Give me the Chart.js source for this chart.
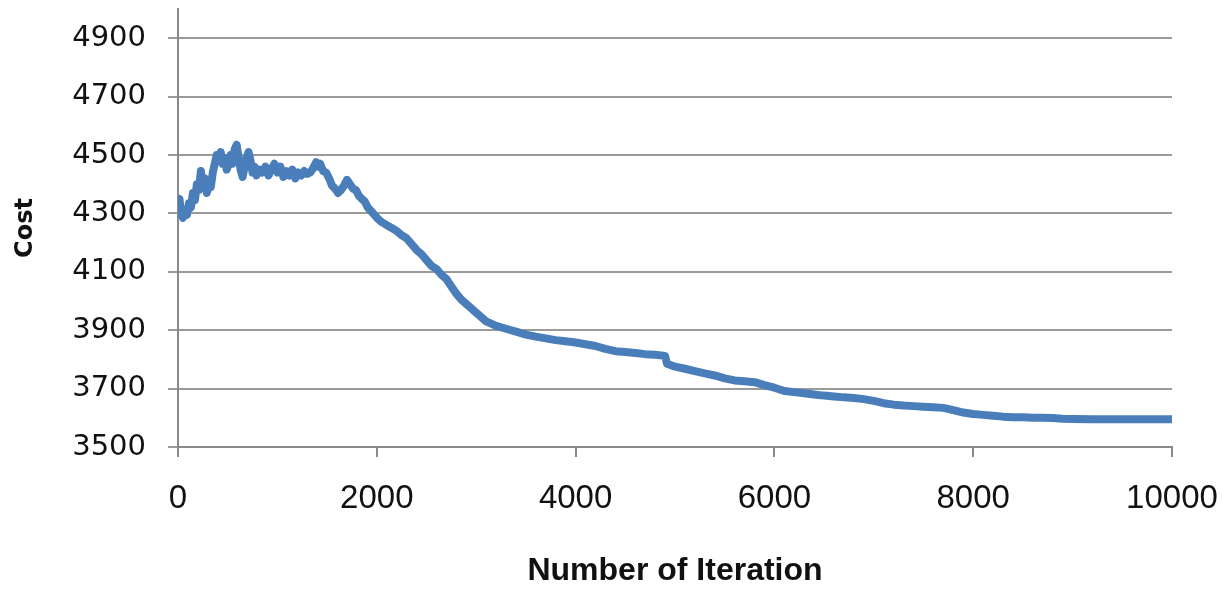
<!DOCTYPE html>
<html>
<head>
<meta charset="utf-8">
<script src="https://cdn.jsdelivr.net/npm/chart.js@4/dist/chart.umd.min.js"></script>
<style>
  html, body { margin: 0; padding: 0; background: #fff; }
  #wrap { width: 1223px; height: 590px; position: relative; }
</style>
</head>
<body>
<div id="wrap"><canvas id="cost-chart" width="1223" height="590"></canvas></div>
<script>
// Iteration numbers and cost
const iterations = [
  0, 15, 30, 50, 70, 90, 110, 130, 150, 170, 190, 210, 230, 250, 270, 290, 310, 330, 350, 370,
  390, 410, 430, 450, 470, 490, 510, 530, 550, 570, 590, 610, 630, 650, 670, 690, 710, 730, 750, 770,
  790, 820, 850, 880, 910, 940, 970, 1000, 1030, 1060, 1090, 1120, 1150, 1180, 1210, 1240, 1270, 1300, 1330, 1360,
  1390, 1410, 1430, 1460, 1490, 1520, 1550, 1580, 1610, 1640, 1670, 1700, 1730, 1760, 1790, 1820, 1850, 1880, 1910, 1950,
  2000, 2050, 2100, 2150, 2200, 2250, 2300, 2350, 2400, 2450, 2500, 2550, 2600, 2650, 2700, 2750, 2800, 2850, 2900, 2950,
  3000, 3050, 3100, 3200, 3300, 3400, 3500, 3600, 3700, 3800, 3900, 4000, 4100, 4200, 4300, 4400, 4500, 4600, 4700, 4800,
  4900, 4920, 5000, 5100, 5200, 5300, 5400, 5500, 5600, 5700, 5800, 5900, 6000, 6100, 6200, 6300, 6400, 6500, 6600, 6700,
  6800, 6900, 7000, 7100, 7200, 7300, 7400, 7500, 7600, 7700, 7800, 7900, 8000, 8100, 8200, 8300, 8400, 8500, 8600, 8700,
  8800, 8900, 9000, 9200, 9400, 9600, 9800, 10000
];
const costs = [
  4330, 4350, 4300, 4285, 4310, 4295, 4335, 4320, 4370, 4345, 4400, 4380, 4445, 4400, 4420, 4370, 4400, 4390, 4440, 4470,
  4500, 4480, 4510, 4470, 4490, 4450, 4470, 4500, 4470, 4520, 4535, 4490, 4450, 4425, 4460, 4490, 4510, 4480, 4440, 4460,
  4430, 4450, 4440, 4460, 4430, 4450, 4470, 4440, 4460, 4425, 4445, 4430, 4450, 4420, 4440, 4430, 4445, 4435, 4440, 4455,
  4475, 4460, 4470, 4445, 4440, 4420, 4395, 4385, 4370, 4380, 4395, 4415, 4400, 4385, 4380, 4360, 4350, 4340, 4320, 4305,
  4285, 4270, 4260, 4250, 4240, 4225, 4215, 4195, 4175, 4160, 4140, 4120, 4110, 4090, 4075, 4050, 4025, 4005, 3990, 3975,
  3960, 3945, 3930, 3915, 3905, 3895, 3885, 3878, 3872, 3866, 3862, 3858, 3852, 3846, 3836, 3828, 3825, 3822, 3818, 3816,
  3812, 3785, 3775, 3768, 3760, 3752, 3745, 3735, 3728, 3725, 3722, 3712, 3703, 3692, 3688, 3684, 3680, 3676, 3673, 3670,
  3668, 3664, 3658, 3650, 3645, 3642, 3640, 3638, 3636, 3634, 3626, 3618, 3613, 3610, 3607, 3604, 3602, 3602, 3600, 3600,
  3599, 3597, 3596, 3595, 3595, 3595, 3595, 3595
];

const yTicks = [3500, 3700, 3900, 4100, 4300, 4500, 4700, 4900];
const xTicks = [0, 2000, 4000, 6000, 8000, 10000];

const points = iterations.map((it, i) => ({ x: it, y: costs[i] }));

const ctx = document.getElementById("cost-chart");

new Chart(ctx, {
  type: 'line',
  data: {
    datasets: [{
      label: 'Cost',
      data: points,
      borderColor: '#4a7ebb',
      borderWidth: 8,
      borderCapStyle: 'round',
      borderJoinStyle: 'round',
      pointRadius: 0,
      tension: 0,
      fill: false
    }]
  },
  options: {
    responsive: false,
    animation: false,
    layout: {
      padding: { top: 9, right: 51, left: 0, bottom: 0 }
    },
    plugins: {
      legend: { display: false },
      tooltip: { enabled: false }
    },
    scales: {
      x: {
        type: 'linear',
        min: 0,
        max: 10000,
        afterBuildTicks: function(scale) {
          scale.ticks = xTicks.map(v => ({ value: v }));
        },
        afterFit: function(scale) {
          scale.height = 143;
          // keep the label overflow from shrinking the plot
          scale.paddingLeft = 0;
          scale.paddingRight = 0;
        },
        grid: {
          drawOnChartArea: false,
          color: '#8a8a8a',
          lineWidth: 2,
          tickLength: 10
        },
        border: { color: '#8a8a8a', width: 2 },
        ticks: {
          maxRotation: 0,
          padding: 22,
          color: '#111',
          callback: v => String(v),
          font: { family: "'Liberation Sans'", size: 33 }
        },
        title: {
          display: true,
          text: 'Number of Iteration',
          color: '#111',
          padding: { top: 0, bottom: 0 },
          font: { family: "'Liberation Sans'", size: 32, weight: 'bold' }
        }
      },
      y: {
        type: 'linear',
        min: 3500,
        max: 5000,
        afterBuildTicks: function(scale) {
          scale.ticks = yTicks.map(v => ({ value: v }));
        },
        afterFit: function(scale) {
          scale.width = 178;
          scale.paddingTop = 0;
          scale.paddingBottom = 0;
        },
        grid: {
          color: '#9a9a9a',
          lineWidth: 2,
          tickLength: 10
        },
        border: { color: '#8a8a8a', width: 2 },
        ticks: {
          padding: 22,
          color: '#111',
          callback: v => String(v),
          font: { family: "'DejaVu Sans'", size: 29 }
        },
        title: {
          display: true,
          text: 'Cost',
          color: '#111',
          padding: { top: 11, bottom: 0 },
          font: { family: "'DejaVu Sans'", size: 24, weight: 'bold' }
        }
      }
    }
  }
});
</script>
</body>
</html>
